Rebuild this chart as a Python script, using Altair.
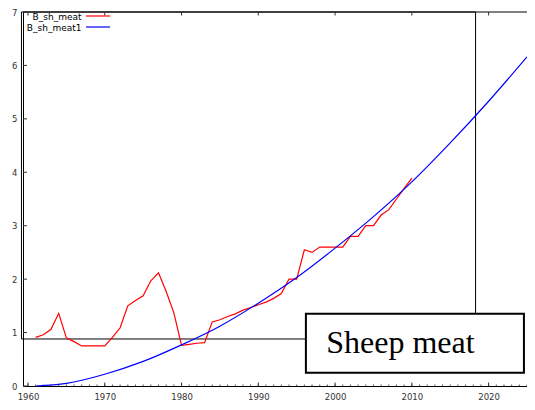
import altair as alt
import pandas as pd

# ---------------- data ----------------
years_red = list(range(1961, 2011))
sheep_meat = [0.91, 0.96, 1.06, 1.36, 0.90, 0.83, 0.75, 0.75, 0.75, 0.75,
              0.91, 1.09, 1.50, 1.60, 1.69, 1.97, 2.12, 1.77, 1.37, 0.76,
              0.78, 0.80, 0.81, 1.20, 1.24, 1.30, 1.35, 1.42, 1.47, 1.52,
              1.57, 1.64, 1.73, 2.00, 2.00, 2.55, 2.50, 2.60, 2.60, 2.60,
              2.60, 2.80, 2.80, 3.00, 3.00, 3.20, 3.30, 3.50, 3.70, 3.89]

years_blue = [1961, 1965, 1970, 1975, 1980, 1985, 1990, 1995, 2000, 2005,
              2010, 2015, 2020, 2025]
sheep_meat_fit = [0.0, 0.05, 0.22, 0.46, 0.77, 1.12, 1.55, 2.03, 2.58, 3.17,
                  3.82, 4.55, 5.33, 6.16]

series_names = ["B_sh_meat", "B_sh_meat1"]
series_colors = ["#ff0000", "#0000ff"]

x_major = [1960, 1970, 1980, 1990, 2000, 2010, 2020]
x_minor = list(range(1960, 2026))
y_ticks = [0, 1, 2, 3, 4, 5, 6, 7]

title_text = "Sheep meat"

# decorative frames (data coordinates)
frame_x = [1959.15, 2018.3]
frame_y = [0.88, 7.0]
box_x = [1996.2, 2024.6]
box_y = [0.25, 1.35]
label_pos = [1998.85, 0.61]

# ---------------- layout ----------------
W, H = 504, 374
X_DOMAIN = [1959.35, 2025.0]
Y_DOMAIN = [0, 7]

xs = alt.Scale(domain=X_DOMAIN, nice=False, zero=False)
ys = alt.Scale(domain=Y_DOMAIN, nice=False, zero=False)

x_axis = alt.Axis(values=x_major, format="d", title=None, grid=False,
                  ticks=False, tickSize=0, labelPadding=6, labelFontSize=8.5,
                  labelColor="#333333", labelFont="DejaVu Sans",
                  domainColor="black", domainWidth=1, labelFlush=False)
y_axis = alt.Axis(values=y_ticks, format="d", title=None, grid=False,
                  ticks=False, tickSize=0, labelPadding=6, labelFontSize=8.5,
                  labelColor="#333333", labelFont="DejaVu Sans",
                  domainColor="black", domainWidth=1, labelFlush=False)


def X(field):
    return alt.X(field, type="quantitative", scale=xs, axis=x_axis)


def Y(field):
    return alt.Y(field, type="quantitative", scale=ys, axis=y_axis)


df_red = pd.DataFrame({"year": years_red, "value": sheep_meat})
df_blue = pd.DataFrame({"year": years_blue, "value": sheep_meat_fit})

frame = alt.Chart(pd.DataFrame({"x": [frame_x[0]], "x2": [frame_x[1]],
                                "y": [frame_y[0]], "y2": [frame_y[1]]})).mark_rect(
    fillOpacity=0, stroke="black", strokeWidth=1).encode(
    x=X("x"), x2="x2", y=Y("y"), y2="y2")

top_border = alt.Chart(pd.DataFrame({"v": [Y_DOMAIN[1]]})).mark_rule(
    color="black", strokeWidth=1).encode(
    y=Y("v"), x=alt.value(0), x2=alt.value(W))

y_tick_marks = alt.Chart(pd.DataFrame({"v": y_ticks})).mark_rule(
    color="#333333").encode(y=Y("v"), x=alt.value(0), x2=alt.value(4))

top_ticks = alt.Chart(pd.DataFrame({"v": x_major})).mark_rule(
    color="#333333").encode(x=X("v"), y=alt.value(0), y2=alt.value(3.5))

bottom_major = alt.Chart(pd.DataFrame({"v": x_major})).mark_rule(
    color="#333333").encode(x=X("v"), y=alt.value(H), y2=alt.value(H - 3.5))

bottom_minor = alt.Chart(pd.DataFrame({"v": x_minor})).mark_rule(
    color="#555555").encode(x=X("v"), y=alt.value(H), y2=alt.value(H - 1.5))

red_line = alt.Chart(df_red).mark_line(color=series_colors[0], strokeWidth=1.2).encode(
    x=X("year"), y=Y("value"))

blue_line = alt.Chart(df_blue).mark_line(color=series_colors[1], strokeWidth=1.2,
                                         interpolate="monotone").encode(
    x=X("year"), y=Y("value"))

box = alt.Chart(pd.DataFrame({"x": [box_x[0]], "x2": [box_x[1]],
                              "y": [box_y[0]], "y2": [box_y[1]]})).mark_rect(
    fill="white", stroke="black", strokeWidth=2).encode(
    x=X("x"), x2="x2", y=Y("y"), y2="y2")

box_text = alt.Chart(pd.DataFrame({"x": [label_pos[0]], "y": [label_pos[1]],
                                   "t": [title_text]})).mark_text(
    align="left", baseline="alphabetic", font="Liberation Serif", fontSize=32,
    color="black").encode(x=X("x"), y=Y("y"), text="t:N")

leg_df = pd.DataFrame({"name": series_names, "idx": list(range(len(series_names)))})
leg_color = alt.Color("name:N", scale=alt.Scale(domain=series_names, range=series_colors),
                      legend=None)

leg_text = alt.Chart(leg_df).transform_calculate(
    ty="5 + 10.5 * datum.idx").mark_text(
    align="right", baseline="middle", font="DejaVu Sans", fontSize=9,
    color="black").encode(x=alt.value(58.5), y=alt.Y("ty:Q", scale=None, axis=None),
                          text="name:N")

leg_line = alt.Chart(leg_df).transform_calculate(
    ly="4 + 11 * datum.idx").mark_rule(strokeWidth=1.2).encode(
    x=alt.value(63), x2=alt.value(87), y=alt.Y("ly:Q", scale=None, axis=None),
    color=leg_color)

chart = alt.layer(
    frame, top_border, bottom_minor, bottom_major, top_ticks, y_tick_marks,
    red_line, blue_line, box, box_text, leg_line, leg_text
).properties(
    width=W, height=H,
    autosize=alt.AutoSizeParams(type="none"),
    padding={"left": 15, "top": 4, "right": 0, "bottom": 15},
    background="white",
).configure_view(stroke=None)

chart.save("out.html", embed_options={"renderer": "svg", "actions": False})
